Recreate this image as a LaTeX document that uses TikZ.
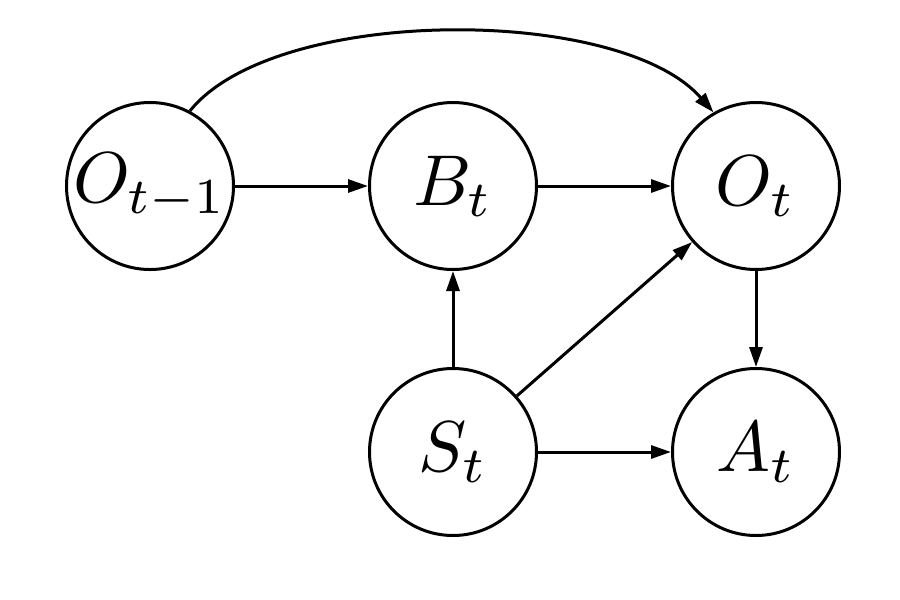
\documentclass[tikz,border=0pt]{standalone}
\usepackage{graphicx}
\usetikzlibrary{arrows.meta}
\newcommand{\nodelabel}[1]{\scalebox{7.2}{$#1$}}
\begin{document}
\begin{tikzpicture}[x=1pt,y=-1pt,
  var/.style={circle,draw,line width=3pt,minimum size=167pt,inner sep=0pt},
  edge/.style={line width=3pt,-{Triangle[length=20pt,width=13pt]}}]
\useasboundingbox (0,0) rectangle (900,600);
\node[var] (O1) at (150,186) {\nodelabel{O_{t-1}}};
\node[var] (B) at (453,186) {\nodelabel{B_t}};
\node[var] (O) at (756,186) {\nodelabel{O_t}};
\node[var] (S) at (453,452) {\nodelabel{S_t}};
\node[var] (A) at (756,452) {\nodelabel{A_t}};
\draw[edge] (O1) -- (B);
\draw[edge] (B) -- (O);
\draw[edge] (S) -- (B);
\draw[edge] (S) -- (O);
\draw[edge] (S) -- (A);
\draw[edge] (O) -- (A);
\draw[edge] (O1.62) .. controls (275,5) and (620,5) .. (O.120);
\end{tikzpicture}
\end{document}
